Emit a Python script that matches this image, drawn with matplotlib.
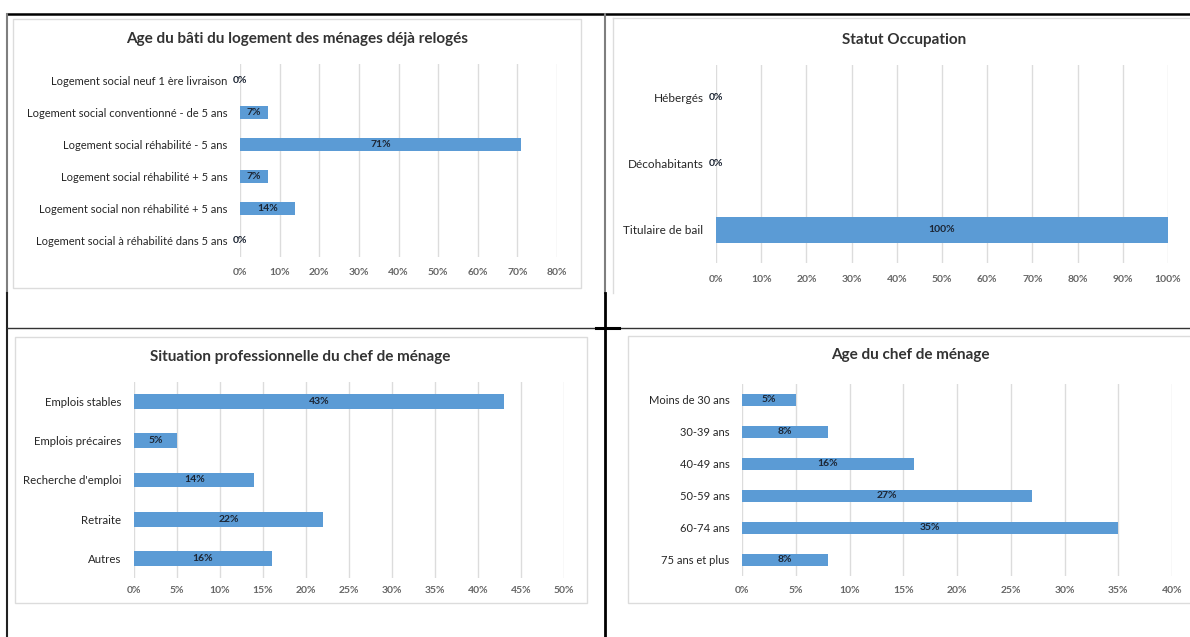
import matplotlib.pyplot as plt
from matplotlib.patches import Rectangle
from matplotlib.lines import Line2D

plt.rcParams['font.family'] = ['Lato', 'DejaVu Sans']

W, H = 1190, 637

# --- data -------------------------------------------------------------
bati_labels = ["Logement social neuf 1 ère livraison",
               "Logement social conventionné - de 5 ans",
               "Logement social réhabilité - 5 ans",
               "Logement social réhabilité + 5 ans",
               "Logement social non réhabilité + 5 ans",
               "Logement social à réhabilité dans 5 ans"]
bati_values = [0, 7, 71, 7, 14, 0]

statut_labels = ["Hébergés", "Décohabitants", "Titulaire de bail"]
statut_values = [0, 0, 100]

situation_labels = ["Emplois stables", "Emplois précaires",
                    "Recherche d'emploi", "Retraite", "Autres"]
situation_values = [43, 5, 14, 22, 16]

age_labels = ["Moins de 30 ans", "30-39 ans", "40-49 ans",
              "50-59 ans", "60-74 ans", "75 ans et plus"]
age_values = [5, 8, 16, 27, 35, 8]

BLUE = "#5b9bd5"
GRID = "#dcdcdc"


def box(x0, y0, x1, y1):
    # pixel box (top-left origin) -> figure fraction rect
    return [x0 / W, 1 - y1 / H, (x1 - x0) / W, (y1 - y0) / H]


def fx(x):
    return x / W


def fy(y):
    return 1 - y / H


fig = plt.figure(figsize=(W / 100, H / 100), dpi=100)


def fig_line(xs, ys, color, lw, z=5):
    fig.add_artist(Line2D([fx(xs[0]), fx(xs[1])], [fy(ys[0]), fy(ys[1])],
                          transform=fig.transFigure, color=color, lw=lw, zorder=z))


def panel(x0, y0, x1, y1):
    fig.patches.append(Rectangle((fx(x0), fy(y1)), fx(x1) - fx(x0), fy(y0) - fy(y1),
                                 transform=fig.transFigure, facecolor="white",
                                 edgecolor=GRID, lw=1.0, zorder=-5))


def bar_chart(rect, labels, values, xmax, step, title, title_xy,
              lab_size, tick_pad, bar_h=0.4):
    ax = fig.add_axes(box(*rect))
    ax.set_facecolor("none")
    ax.set_zorder(2)
    pos = list(range(len(labels)))
    ax.barh(pos, values, height=bar_h, color=BLUE, zorder=2)
    for p, v in zip(pos, values):
        ax.text(v / 2, p, f"{v}%", ha="center", va="center", fontsize=7.5,
                fontweight="bold", color="#1c2533", zorder=3)
    ticks = list(range(0, xmax + 1, step))
    ax.set_xlim(0, xmax)
    ax.set_ylim(len(labels) - 0.5, -0.5)
    ax.set_xticks(ticks)
    ax.set_xticklabels([f"{t}%" for t in ticks], fontsize=7.5,
                       fontweight="bold", color="#666666")
    ax.set_yticks(pos)
    ax.set_yticklabels(labels, fontsize=lab_size, color="#262626")
    ax.tick_params(axis="x", length=0, pad=tick_pad)
    ax.tick_params(axis="y", length=0, pad=9)
    ax.grid(axis="x", color=GRID, lw=1.0, zorder=0)
    ax.set_axisbelow(True)
    for s in ax.spines.values():
        s.set_visible(False)
    fig.text(fx(title_xy[0]), fy(title_xy[1]), title, ha="center", va="center",
             fontsize=11, fontweight="bold", color="#333333")
    return ax


# chart backgrounds
panel(13, 19, 581, 288)
panel(15, 337, 587, 603)
panel(628, 336, 1230, 603)
# the occupancy chart is cut off at the bottom and right: only top/left edges
fig_line((613, 1190), (18, 18), GRID, 1.0, z=-4)
fig_line((613, 613), (18, 293), GRID, 1.0, z=-4)

bar_chart((240, 64, 557, 257), bati_labels, bati_values, 80, 10,
          "Age du bâti du logement des ménages déjà relogés", (297, 39),
          8, 8)
bar_chart((716, 65, 1168, 263), statut_labels, statut_values, 100, 10,
          "Statut Occupation", (904, 40), 8.5, 8.5)
bar_chart((134, 382, 564, 578), situation_labels, situation_values, 50, 5,
          "Situation professionnelle du chef de ménage", (300, 357),
          8.2, 5.5, bar_h=0.38)
bar_chart((742, 384, 1172, 576), age_labels, age_values, 40, 5,
          "Age du chef de ménage", (910, 355), 8, 7, bar_h=0.38)

# table rules around the four charts
fig_line((7, 1190), (14, 14), "black", 1.8)
fig_line((7, 7), (14, 293), "#7f7f7f", 1.5)
fig_line((7, 7), (293, 637), "#222222", 1.5)
fig_line((605, 605), (14, 293), "#7f7f7f", 1.5)
fig_line((605, 605), (293, 637), "black", 2.0)
fig_line((7, 1190), (328, 328), "#333333", 1.0)
fig_line((596, 619), (328, 328), "black", 2.2)

fig.savefig("out.png", dpi=100, facecolor="white")
